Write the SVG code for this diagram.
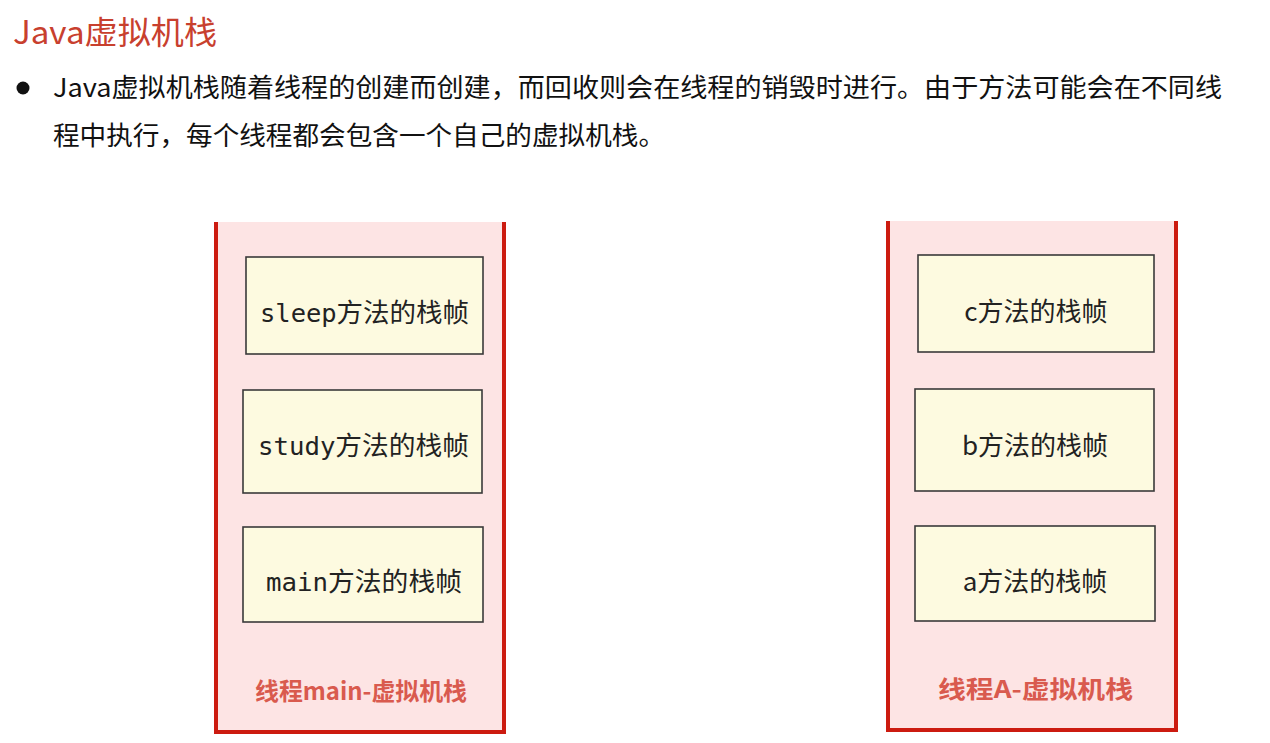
<svg xmlns="http://www.w3.org/2000/svg" width="1270" height="743" viewBox="0 0 1270 743">
<style>
.stack{fill:#fde4e4;}
.wall{fill:none;stroke:#cc1b10;stroke-width:4;}
.frame{fill:#fdfae0;stroke:#3a3a3a;stroke-width:1.6;}
.mono{font-family:"DejaVu Sans Mono","Noto Sans CJK SC",monospace;font-size:25px;fill:#222;}
.sans{font-family:"Noto Sans CJK SC",sans-serif;font-size:26px;fill:#222;}
.label{font-family:"Noto Sans CJK SC",sans-serif;font-size:24px;font-weight:bold;fill:#d95a4e;}
.txt{font-family:"Noto Sans CJK SC",sans-serif;font-size:26px;fill:#111;}
</style>
<rect width="1270" height="743" fill="#ffffff"/>
<text x="13" y="44" font-family="'Noto Sans CJK SC',sans-serif" font-size="32" fill="#c8402e" textLength="204" lengthAdjust="spacingAndGlyphs">Java虚拟机栈</text>
<circle cx="23" cy="88" r="6.5" fill="#111"/>
<text class="txt" x="53" y="97" textLength="1169" lengthAdjust="spacingAndGlyphs">Java虚拟机栈随着线程的创建而创建，而回收则会在线程的销毁时进行。由于方法可能会在不同线</text>
<text class="txt" x="53" y="145" textLength="612" lengthAdjust="spacingAndGlyphs">程中执行，每个线程都会包含一个自己的虚拟机栈。</text>

<g id="stack-main">
<rect class="stack" x="216" y="222" width="288" height="510"/>
<path class="wall" d="M216,222 V732 H504 V222"/>
<text class="label" x="255" y="700" textLength="212" lengthAdjust="spacingAndGlyphs">线程main-虚拟机栈</text>
</g>
<g id="frame-sleep">
<rect class="frame" x="246" y="257" width="237" height="97"/>
<text class="mono" x="260" y="322" textLength="209" lengthAdjust="spacingAndGlyphs">sleep<tspan class="sans">方法的栈帧</tspan></text>
</g>
<g id="frame-study">
<rect class="frame" x="243" y="390" width="239" height="103"/>
<text class="mono" x="258" y="455" textLength="211" lengthAdjust="spacingAndGlyphs">study<tspan class="sans">方法的栈帧</tspan></text>
</g>
<g id="frame-main">
<rect class="frame" x="243" y="527" width="240" height="95"/>
<text class="mono" x="266" y="591" textLength="196" lengthAdjust="spacingAndGlyphs">main<tspan class="sans">方法的栈帧</tspan></text>
</g>

<g id="stack-A">
<rect class="stack" x="888" y="221" width="288" height="509"/>
<path class="wall" d="M888,221 V730 H1176 V221"/>
<text class="label" x="938" y="698" textLength="195" lengthAdjust="spacingAndGlyphs">线程A-虚拟机栈</text>
</g>
<g id="frame-c">
<rect class="frame" x="918" y="255" width="236" height="97"/>
<text class="sans" x="1036" y="321" text-anchor="middle">c方法的栈帧</text>
</g>
<g id="frame-b">
<rect class="frame" x="915" y="389" width="239" height="102"/>
<text class="sans" x="1035" y="455" text-anchor="middle">b方法的栈帧</text>
</g>
<g id="frame-a">
<rect class="frame" x="915" y="526" width="240" height="95"/>
<text class="sans" x="1035" y="591" text-anchor="middle">a方法的栈帧</text>
</g>
<g id="connectors"></g>
</svg>
